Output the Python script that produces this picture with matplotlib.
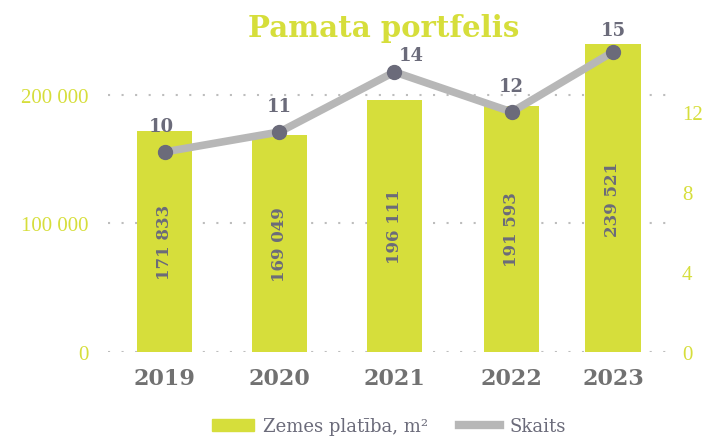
import matplotlib.pyplot as plt
from matplotlib.patches import Patch
from matplotlib.lines import Line2D

years = ['2019', '2020', '2021', '2022', '2023']
area = [171833, 169049, 196111, 191593, 239521]
count = [10, 11, 14, 12, 15]
area_labels = ['171 833', '169 049', '196 111', '191 593', '239 521']

LIME = '#d6de3b'
GRAY_LINE = '#b7b7b7'
DARK = '#6b6b7a'
YEAR_GRAY = '#717171'
SERIF = 'DejaVu Serif'

x = [0, 1, 2, 3.02, 3.9]

fig = plt.figure(figsize=(7.07, 4.39), dpi=100)
ax = fig.add_axes([0.153, 0.196, 0.792, 0.713])
ax2 = ax.twinx()

ax.bar(x, area, width=0.48, color=LIME, zorder=2)
for xi, a, lab in zip(x, area, area_labels):
    ax.text(xi, a / 2, lab, rotation=90, ha='center', va='center', color=DARK,
            fontsize=12, fontweight='bold', family=SERIF)

ax.set_ylim(0, 243600)
ax.set_xlim(-0.49, 4.38)
ax.set_yticks([0, 100000, 200000])
ax.set_yticklabels(['0', '100 000', '200 000'])
ax.yaxis.grid(True, linestyle=(0, (1, 5.5)), color='#bdbdbd', linewidth=1.5)
ax.set_axisbelow(True)
ax.set_xticks(x)
ax.set_xticklabels(years)

ax2.plot(x, count, color=GRAY_LINE, linewidth=5.5, zorder=3, solid_capstyle='round')
ax2.plot(x, count, 'o', color=DARK, markersize=10, zorder=4)
ax2.set_ylim(0, 15.65)
ax2.set_yticks([0, 4, 8, 12])
offsets = [(-2, 12), (0, 12), (12, 6), (0, 12), (0, 9)]
for xi, c, off in zip(x, count, offsets):
    ax2.annotate(str(c), (xi, c), xytext=off, textcoords='offset points', ha='center',
                 va='bottom', color=DARK, fontsize=13, fontweight='bold', family=SERIF)

for a in (ax, ax2):
    for s in a.spines.values():
        s.set_visible(False)
    a.tick_params(length=0)

ax.tick_params(axis='y', colors=LIME, labelsize=15, pad=14)
ax2.tick_params(axis='y', colors=LIME, labelsize=15, pad=10)
for t in ax.get_yticklabels() + ax2.get_yticklabels():
    t.set_family('Liberation Serif')
ax.tick_params(axis='x', pad=11)
for t in ax.get_xticklabels():
    t.set_color(YEAR_GRAY)
    t.set_fontsize(16)
    t.set_fontweight('bold')
    t.set_family(SERIF)

fig.text(0.542, 0.935, 'Pamata portfelis', ha='center', va='center', color=LIME,
         fontsize=21, fontweight='bold', family=SERIF)

handles = [Patch(color=LIME, label='Zemes platība, m²'),
           Line2D([0], [0], color=GRAY_LINE, linewidth=6, label='Skaits')]
leg = fig.legend(handles=handles, loc='center', bbox_to_anchor=(0.55, 0.027), ncol=2,
                 frameon=False, handlelength=2.3, handletextpad=0.5, columnspacing=1.7,
                 prop={'family': SERIF, 'size': 13})
for t in leg.get_texts():
    t.set_color(DARK)

fig.savefig('out.png', dpi=100)
